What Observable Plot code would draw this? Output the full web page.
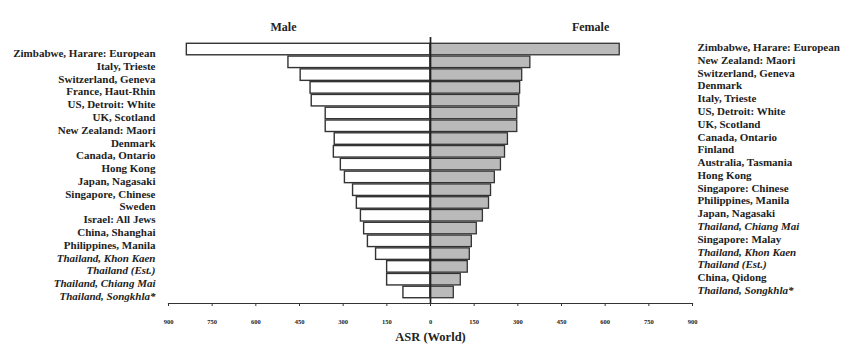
<!DOCTYPE html>
<html>
<head>
<meta charset="utf-8">
<script src="https://cdn.jsdelivr.net/npm/d3@7"></script>
<script src="https://cdn.jsdelivr.net/npm/@observablehq/plot@0.6"></script>
<style>
  html, body { margin: 0; padding: 0; background: #fff; }
</style>
</head>
<body>
<div id="chart"></div>
<script>
const maleCountries = [
  "Zimbabwe, Harare: European", "Italy, Trieste", "Switzerland, Geneva", "France, Haut-Rhin",
  "US, Detroit: White", "UK, Scotland", "New Zealand: Maori", "Denmark", "Canada, Ontario",
  "Hong Kong", "Japan, Nagasaki", "Singapore, Chinese", "Sweden", "Israel: All Jews",
  "China, Shanghai", "Philippines, Manila", "Thailand, Khon Kaen", "Thailand (Est.)",
  "Thailand, Chiang Mai", "Thailand, Songkhla*"
];
const maleASR = [837, 488, 446, 412, 408, 360, 360, 329, 332, 308, 294, 266, 253, 239, 228, 215, 187, 149, 149, 93];

const femaleCountries = [
  "Zimbabwe, Harare: European", "New Zealand: Maori", "Switzerland, Geneva", "Denmark",
  "Italy, Trieste", "US, Detroit: White", "UK, Scotland", "Canada, Ontario", "Finland",
  "Australia, Tasmania", "Hong Kong", "Singapore: Chinese", "Philippines, Manila",
  "Japan, Nagasaki", "Thailand, Chiang Mai", "Singapore: Malay", "Thailand, Khon Kaen",
  "Thailand (Est.)", "China, Qidong", "Thailand, Songkhla*"
];
const femaleASR = [650, 343, 315, 308, 305, 298, 298, 266, 256, 242, 221, 208, 201, 180, 159, 142, 135, 128, 104, 80];

const xTicks = [-900, -750, -600, -450, -300, -150, 0, 150, 300, 450, 600, 750, 900];

const n = Math.max(maleCountries.length, femaleCountries.length);
const rows = d3.range(n);
const isThai = s => s.startsWith("Thailand");
const maleIdx = d3.range(maleCountries.length);
const femaleIdx = d3.range(femaleCountries.length);

const font = "'Liberation Serif', 'Times New Roman', serif";
const labelSize = 11;

const chart = Plot.plot({
  width: 845,
  height: 348,
  marginLeft: 168,
  marginRight: 153,
  marginTop: 42,
  marginBottom: 45,
  style: { fontFamily: font, color: "#222", background: "#fff" },
  x: { domain: [-900, 900] },
  y: { type: "band", domain: rows, padding: 0.1, round: false, insetBottom: 4, axis: null },
  marks: [
    Plot.barX(maleIdx, { x1: 0, x2: i => -maleASR[i], y: i => i, fill: "white", stroke: "#333", strokeWidth: 1.4 }),
    Plot.barX(femaleIdx, { x1: 0, x2: i => femaleASR[i], y: i => i, fill: "#bababa", stroke: "#333", strokeWidth: 1.3 }),
    Plot.ruleX([0], { stroke: "#222", strokeWidth: 1.7, insetTop: -5 }),
    Plot.frame({ anchor: "bottom", stroke: "#333", strokeWidth: 1.2 }),
    Plot.axisX({ ticks: xTicks, tickFormat: d => Math.abs(d), tickSize: 3, tickPadding: 13,
      fontSize: 6.5, fontWeight: "bold", label: null, stroke: "#333" }),
    Plot.text(maleIdx.filter(i => !isThai(maleCountries[i])), { y: i => i, text: i => maleCountries[i],
      frameAnchor: "left", textAnchor: "end", dx: -13, dy: 4, fontSize: labelSize, fontWeight: "bold", fill: "#222" }),
    Plot.text(maleIdx.filter(i => isThai(maleCountries[i])), { y: i => i, text: i => maleCountries[i],
      frameAnchor: "left", textAnchor: "end", dx: -13, dy: 4, fontSize: labelSize, fontWeight: "bold", fontStyle: "italic", fill: "#222" }),
    Plot.text(femaleIdx.filter(i => !isThai(femaleCountries[i])), { y: i => i, text: i => femaleCountries[i],
      frameAnchor: "right", textAnchor: "start", dx: 5, dy: -2, fontSize: labelSize, fontWeight: "bold", fill: "#222" }),
    Plot.text(femaleIdx.filter(i => isThai(femaleCountries[i])), { y: i => i, text: i => femaleCountries[i],
      frameAnchor: "right", textAnchor: "start", dx: 5, dy: -2, fontSize: labelSize, fontWeight: "bold", fontStyle: "italic", fill: "#222" }),
    Plot.text(["Male"], { x: () => -505, frameAnchor: "top", dy: -20, fontSize: 12, fontWeight: "bold", fill: "#222" }),
    Plot.text(["Female"], { x: () => 550, frameAnchor: "top", dy: -20, fontSize: 12, fontWeight: "bold", fill: "#222" }),
    Plot.text(["ASR (World)"], { x: () => 0, frameAnchor: "bottom", dy: 37, fontSize: 12.5, fontWeight: "bold", fill: "#222" })
  ]
});
document.getElementById("chart").appendChild(chart);
</script>
</body>
</html>
